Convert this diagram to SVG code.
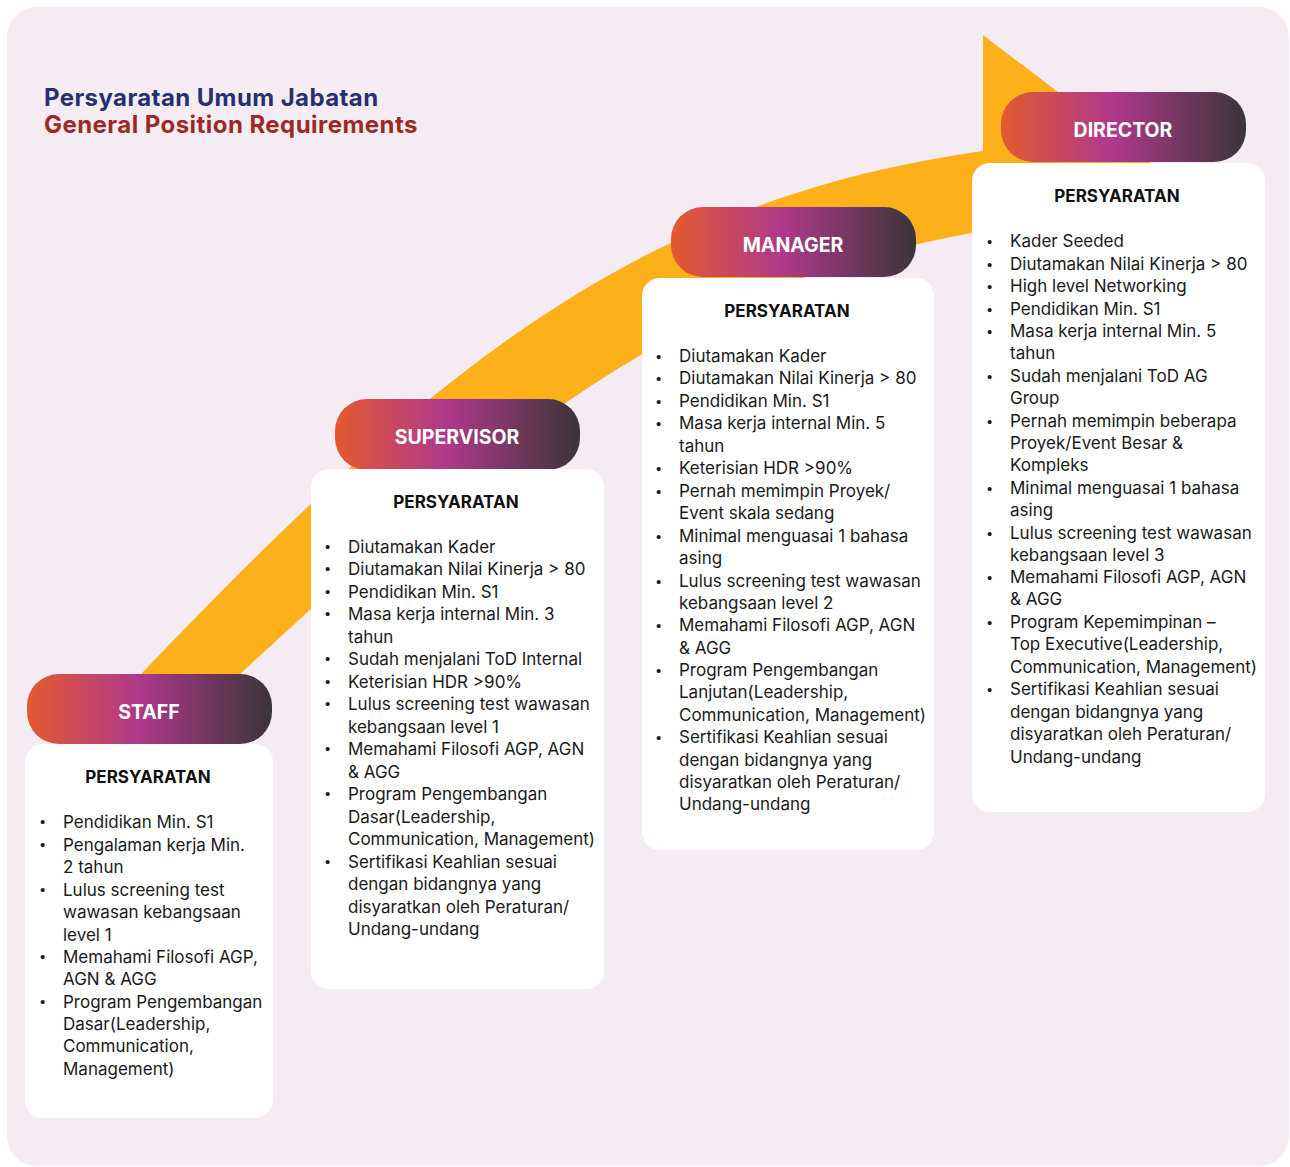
<svg xmlns="http://www.w3.org/2000/svg" width="1290" height="1167" viewBox="0 0 1290 1167">
<defs>
<linearGradient id="pillGrad" x1="0" y1="0" x2="1" y2="0">
<stop offset="0" stop-color="#E35A2F"/>
<stop offset="0.45" stop-color="#B0398B"/>
<stop offset="1" stop-color="#3A3538"/>
</linearGradient>
<style>
.bg{fill:#F5EBF3}
.pill{fill:url(#pillGrad)}
.box{fill:#FFFFFF}
.plabel{font-family:Inter,"Liberation Sans",sans-serif;font-weight:700;font-size:19.5px;fill:#FFFFFF;text-anchor:middle}
.head{font-family:Inter,"Liberation Sans",sans-serif;font-weight:700;font-size:17px;fill:#111111;text-anchor:middle}
.item{font-family:Inter,"Liberation Sans",sans-serif;font-size:17px;fill:#1A1A1A}
.bul{font-family:"Liberation Sans",sans-serif;font-size:15px;fill:#1A1A1A}
.t1{font-family:Inter,"Liberation Sans",sans-serif;font-weight:700;font-size:24px;letter-spacing:0.4px;fill:#27306F}
.t2{font-family:Inter,"Liberation Sans",sans-serif;font-weight:700;font-size:24px;letter-spacing:0.45px;fill:#9B2A25}
.arrow{fill:#FDB01A}
</style>
</defs>
<rect class="bg" x="7" y="7" width="1282" height="1159" rx="30"/>
<g id="title">
<text class="t1" x="44" y="106">Persyaratan Umum Jabatan</text>
<text class="t2" x="44" y="133">General Position Requirements</text>
</g>
<g id="connectors">
<path class="arrow" d="M126,690 C426,374 633,200 983,151 L983,35 L1188,191 L983,347 L983,231 C703,279 523,410 223,690 Z"/>
</g>
<g id="staff">
<rect class="pill" x="27" y="674" width="245" height="70" rx="32"/>
<text class="plabel" x="149" y="719">STAFF</text>
<rect class="box" x="25" y="744" width="248" height="374" rx="18"/>
<text class="head" x="148" y="783">PERSYARATAN</text>
<g class="bul"><text x="40" y="827">•</text><text x="40" y="850">•</text><text x="40" y="895">•</text><text x="40" y="962">•</text><text x="40" y="1007">•</text></g>
<g class="item">
<text x="63" y="828">Pendidikan Min. S1</text>
<text x="63" y="851">Pengalaman kerja Min.</text>
<text x="63" y="873">2 tahun</text>
<text x="63" y="896">Lulus screening test</text>
<text x="63" y="918">wawasan kebangsaan</text>
<text x="63" y="941">level 1</text>
<text x="63" y="963">Memahami Filosofi AGP,</text>
<text x="63" y="985">AGN &amp; AGG</text>
<text x="63" y="1008">Program Pengembangan</text>
<text x="63" y="1030">Dasar(Leadership,</text>
<text x="63" y="1052">Communication,</text>
<text x="63" y="1075">Management)</text>
</g>
</g>
<g id="supervisor">
<rect class="pill" x="335" y="399" width="245" height="71" rx="32"/>
<text class="plabel" x="457" y="444">SUPERVISOR</text>
<rect class="box" x="311" y="469" width="293" height="520" rx="18"/>
<text class="head" x="456" y="508">PERSYARATAN</text>
<g class="bul"><text x="325" y="552">•</text><text x="325" y="574">•</text><text x="325" y="597">•</text><text x="325" y="619">•</text><text x="325" y="664">•</text><text x="325" y="687">•</text><text x="325" y="709">•</text><text x="325" y="754">•</text><text x="325" y="799">•</text><text x="325" y="867">•</text></g>
<g class="item">
<text x="348" y="553">Diutamakan Kader</text>
<text x="348" y="575">Diutamakan Nilai Kinerja &gt; 80</text>
<text x="348" y="598">Pendidikan Min. S1</text>
<text x="348" y="620">Masa kerja internal Min. 3</text>
<text x="348" y="643">tahun</text>
<text x="348" y="665">Sudah menjalani ToD Internal</text>
<text x="348" y="688">Keterisian HDR &gt;90%</text>
<text x="348" y="710">Lulus screening test wawasan</text>
<text x="348" y="733">kebangsaan level 1</text>
<text x="348" y="755">Memahami Filosofi AGP, AGN</text>
<text x="348" y="778">&amp; AGG</text>
<text x="348" y="800">Program Pengembangan</text>
<text x="348" y="823">Dasar(Leadership,</text>
<text x="348" y="845">Communication, Management)</text>
<text x="348" y="868">Sertifikasi Keahlian sesuai</text>
<text x="348" y="890">dengan bidangnya yang</text>
<text x="348" y="913">disyaratkan oleh Peraturan/</text>
<text x="348" y="935">Undang-undang</text>
</g>
</g>
<g id="manager">
<rect class="pill" x="671" y="207" width="245" height="70" rx="32"/>
<text class="plabel" x="793" y="252">MANAGER</text>
<rect class="box" x="642" y="278" width="292" height="572" rx="18"/>
<text class="head" x="787" y="317">PERSYARATAN</text>
<g class="bul"><text x="656" y="362">•</text><text x="656" y="384">•</text><text x="656" y="407">•</text><text x="656" y="429">•</text><text x="656" y="474">•</text><text x="656" y="497">•</text><text x="656" y="542">•</text><text x="656" y="587">•</text><text x="656" y="631">•</text><text x="656" y="676">•</text><text x="656" y="743">•</text></g>
<g class="item">
<text x="679" y="362">Diutamakan Kader</text>
<text x="679" y="384">Diutamakan Nilai Kinerja &gt; 80</text>
<text x="679" y="407">Pendidikan Min. S1</text>
<text x="679" y="429">Masa kerja internal Min. 5</text>
<text x="679" y="452">tahun</text>
<text x="679" y="474">Keterisian HDR &gt;90%</text>
<text x="679" y="497">Pernah memimpin Proyek/</text>
<text x="679" y="519">Event skala sedang</text>
<text x="679" y="542">Minimal menguasai 1 bahasa</text>
<text x="679" y="564">asing</text>
<text x="679" y="587">Lulus screening test wawasan</text>
<text x="679" y="609">kebangsaan level 2</text>
<text x="679" y="631">Memahami Filosofi AGP, AGN</text>
<text x="679" y="654">&amp; AGG</text>
<text x="679" y="676">Program Pengembangan</text>
<text x="679" y="698">Lanjutan(Leadership,</text>
<text x="679" y="721">Communication, Management)</text>
<text x="679" y="743">Sertifikasi Keahlian sesuai</text>
<text x="679" y="766">dengan bidangnya yang</text>
<text x="679" y="788">disyaratkan oleh Peraturan/</text>
<text x="679" y="810">Undang-undang</text>
</g>
</g>
<g id="director">
<rect class="pill" x="1001" y="92" width="245" height="70" rx="32"/>
<text class="plabel" x="1123" y="137">DIRECTOR</text>
<rect class="box" x="972" y="163" width="293" height="649" rx="18"/>
<text class="head" x="1117" y="202">PERSYARATAN</text>
<g class="bul"><text x="987" y="247">•</text><text x="987" y="270">•</text><text x="987" y="292">•</text><text x="987" y="315">•</text><text x="987" y="337">•</text><text x="987" y="382">•</text><text x="987" y="427">•</text><text x="987" y="494">•</text><text x="987" y="539">•</text><text x="987" y="583">•</text><text x="987" y="628">•</text><text x="987" y="695">•</text></g>
<g class="item">
<text x="1010" y="247">Kader Seeded</text>
<text x="1010" y="270">Diutamakan Nilai Kinerja &gt; 80</text>
<text x="1010" y="292">High level Networking</text>
<text x="1010" y="315">Pendidikan Min. S1</text>
<text x="1010" y="337">Masa kerja internal Min. 5</text>
<text x="1010" y="359">tahun</text>
<text x="1010" y="382">Sudah menjalani ToD AG</text>
<text x="1010" y="404">Group</text>
<text x="1010" y="427">Pernah memimpin beberapa</text>
<text x="1010" y="449">Proyek/Event Besar &amp;</text>
<text x="1010" y="471">Kompleks</text>
<text x="1010" y="494">Minimal menguasai 1 bahasa</text>
<text x="1010" y="516">asing</text>
<text x="1010" y="539">Lulus screening test wawasan</text>
<text x="1010" y="561">kebangsaan level 3</text>
<text x="1010" y="583">Memahami Filosofi AGP, AGN</text>
<text x="1010" y="605">&amp; AGG</text>
<text x="1010" y="628">Program Kepemimpinan –</text>
<text x="1010" y="650">Top Executive(Leadership,</text>
<text x="1010" y="673">Communication, Management)</text>
<text x="1010" y="695">Sertifikasi Keahlian sesuai</text>
<text x="1010" y="718">dengan bidangnya yang</text>
<text x="1010" y="740">disyaratkan oleh Peraturan/</text>
<text x="1010" y="763">Undang-undang</text>
</g>
</g>
</svg>
